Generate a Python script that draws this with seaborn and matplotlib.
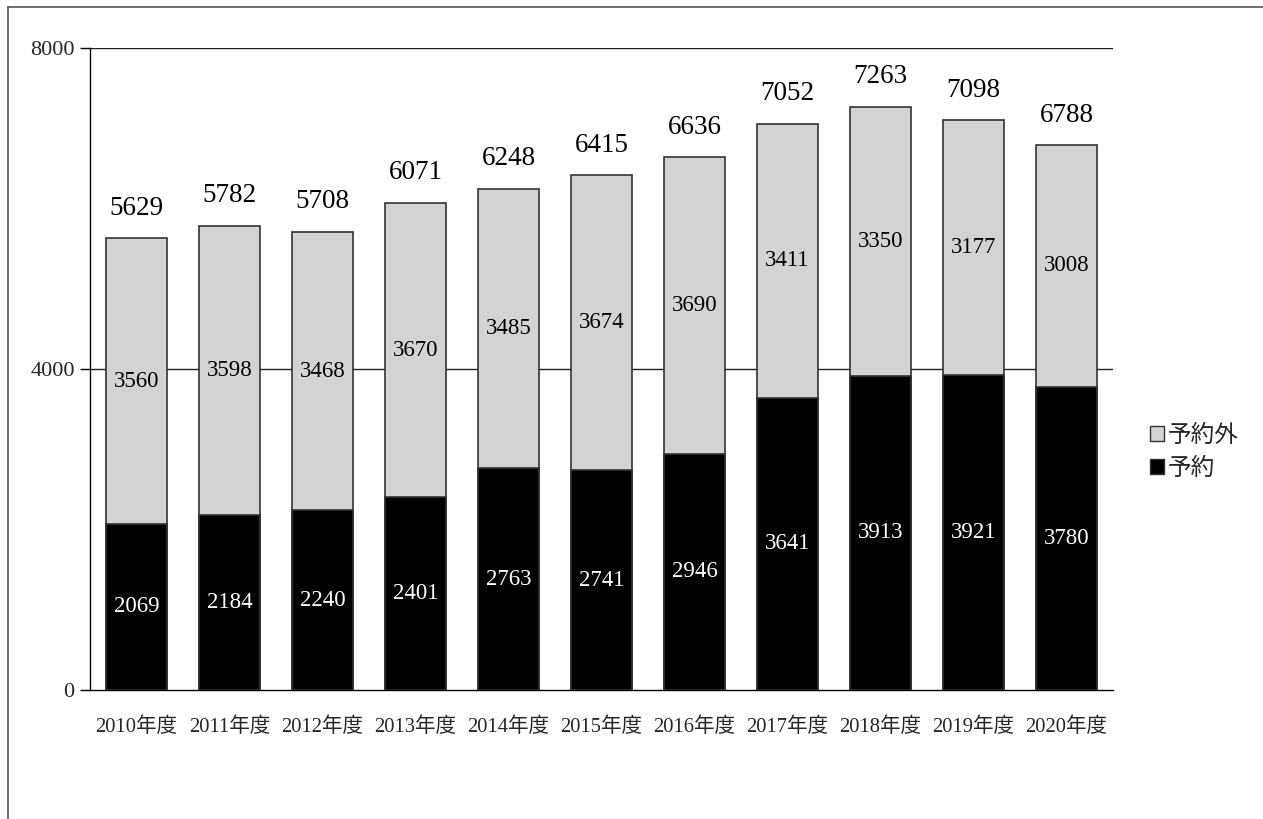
import pandas as pd
import numpy as np
import matplotlib.pyplot as plt
import seaborn as sns
from matplotlib.lines import Line2D
from matplotlib.patches import Patch

# ==============================
# DATA
# ==============================
years = ["2010年度", "2011年度", "2012年度", "2013年度", "2014年度", "2015年度",
         "2016年度", "2017年度", "2018年度", "2019年度", "2020年度"]
yoyaku = [2069, 2184, 2240, 2401, 2763, 2741, 2946, 3641, 3913, 3921, 3780]
yoyaku_gai = [3560, 3598, 3468, 3670, 3485, 3674, 3690, 3411, 3350, 3177, 3008]
totals = [5629, 5782, 5708, 6071, 6248, 6415, 6636, 7052, 7263, 7098, 6788]

df = pd.DataFrame({"year": years, "予約": yoyaku, "予約外": yoyaku_gai, "total": totals})

# ==============================
# STYLE
# ==============================
sns.set_style("white")
plt.rcParams['font.family'] = ['Liberation Serif', 'Noto Sans CJK JP']

fig = plt.figure(figsize=(12.63, 8.19), dpi=100)
ax = fig.add_axes([90 / 1263, 1 - 690 / 819, 1023 / 1263, 642 / 819])

# gridlines behind bars
for yv in [4000, 8000]:
    ax.axhline(yv, color="#222222", lw=1, zorder=0)

# stacked bars: full height in gray, bottom part in black
sns.barplot(data=df, x="year", y="total", color="#d3d3d3", width=0.66,
            edgecolor="#333333", linewidth=1.2, ax=ax, zorder=2, saturation=1)
sns.barplot(data=df, x="year", y="予約", color="black", width=0.66,
            edgecolor="#333333", linewidth=1.2, ax=ax, zorder=3, saturation=1)

# ==============================
# LABELS
# ==============================
for i in range(len(years)):
    ax.text(i, yoyaku[i] / 2, str(yoyaku[i]), ha="center", va="center",
            color="white", fontsize=16.5, zorder=5)
    ax.text(i, yoyaku[i] + yoyaku_gai[i] / 2, str(yoyaku_gai[i]), ha="center",
            va="center", color="black", fontsize=16.5, zorder=5)
    ax.text(i, totals[i] + 220, str(totals[i]), ha="center", va="bottom",
            color="black", fontsize=19.5, zorder=5)

# ==============================
# AXES
# ==============================
ax.set_xlim(-0.5, len(years) - 0.5)
ax.set_ylim(0, 8000)
ax.set_yticks([0, 4000, 8000])
ax.set_yticklabels(["0", "4000", "8000"], fontsize=16)
ax.set_xticks(range(len(years)))
ax.set_xticklabels(years, fontsize=14.8)
ax.set_xticks(np.arange(-0.5, len(years)), minor=True)
ax.tick_params(axis="x", which="major", length=0, pad=20)
ax.tick_params(axis="x", which="minor", length=7, color="black", width=1)
ax.tick_params(axis="y", length=7, color="black", width=1, pad=4, left=True)
ax.set_xlabel("")
ax.set_ylabel("")

for side in ["top", "right"]:
    ax.spines[side].set_visible(False)
for side in ["left", "bottom"]:
    ax.spines[side].set_color("black")
    ax.spines[side].set_linewidth(1)

# ==============================
# LEGEND
# ==============================
handles = [Patch(facecolor="#d3d3d3", edgecolor="#333333", label="予約外"),
           Patch(facecolor="black", edgecolor="#333333", label="予約")]
fig.legend(handles=handles, loc="center left", bbox_to_anchor=(1129 / 1263, 1 - 452 / 819),
           frameon=False, handlelength=0.6, handleheight=0.6,
           handletextpad=0.15, labelspacing=0.45,
           prop={"family": ["Noto Sans CJK JP"], "size": 17})

# outer frame (left and top only)
fig.add_artist(Line2D([8 / 1263, 8 / 1263], [0, 1 - 7 / 819], color="#555555", lw=1.2))
fig.add_artist(Line2D([8 / 1263, 1], [1 - 7 / 819, 1 - 7 / 819], color="#555555", lw=1.2))

plt.savefig("out.png", dpi=100)
